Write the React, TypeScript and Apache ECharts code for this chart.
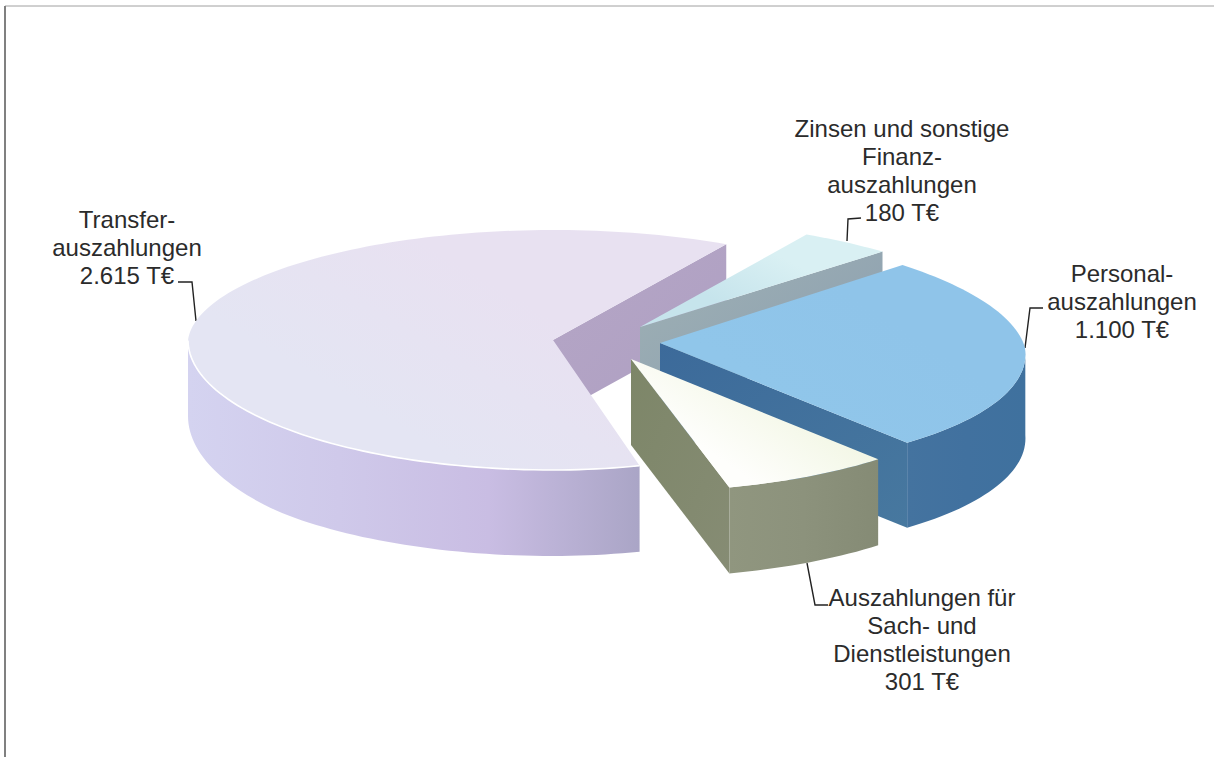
import React, { useEffect, useRef } from "react";
import * as echarts from "echarts";

// Data (clockwise, as in the source sheet)
const categories = ["Transfer-\nauszahlungen", "Zinsen und sonstige\nFinanz-\nauszahlungen", "Personal-\nauszahlungen", "Auszahlungen für\nSach- und\nDienstleistungen"];
const values = [2615, 180, 1100, 301];
const valueLabels = ["2.615 T€", "180 T€", "1.100 T€", "301 T€"];

// Geometry and styling of the tilted, exploded pie
const firstAngle = 284.9; // degrees, counter-clockwise from east
const rx = 365;
const looks = [
  { ax: 553, ay: 340, cx: 553, cy: 340, back: 110, front: 130, kb: 0.04, kf: -0.08, depth: 76, extra: 10,
    top: ["#e8e1f1", "#e4e5f3"], wall: ["#b5a6c6", "#ae9fc2"], rim: ["#d4d3f0", "#cfc9ea", "#c9bde3", "#aaa5c6"], edge: "#ffffff" },
  { ax: 640, ay: 327, cx: 640, cy: 326, back: 105, front: 130, kb: 0.083, kf: 0.05, depth: 84, extra: 2,
    top: ["#d9f0f3", "#c6e4ec"], wall: ["#9fb1b4", "#8a9db0"], rim: ["#8a9db0", "#8a9db0"], edge: "" },
  { ax: 660, ay: 343, cx: 660, cy: 348, back: 117, front: 125, kb: 0.083, kf: 0.05, depth: 84, extra: 1,
    top: ["#8fc4e9", "#90c6ea"], wall: ["#3c6a9a", "#47789f"], rim: ["#44739f", "#41719f", "#3f719e"], edge: "" },
  { ax: 631, ay: 359, cx: 631, cy: 357, back: 105, front: 135, kb: 0.083, kf: 0.05, depth: 82, extra: 4,
    top: ["#f3f7e6", "#fefefc"], wall: ["#7d8668", "#868c74"], rim: ["#90967f", "#8c927c", "#858b75"], edge: "" },
];
const labelBoxes = [
  { x: 127, y: 247, leader: [[178, 282], [192, 282], [196, 321]] },
  { x: 902, y: 170, leader: [[861, 218], [848, 219], [847, 241]] },
  { x: 1122, y: 301, leader: [[1043, 308], [1030, 308], [1025, 348]] },
  { x: 922, y: 639, leader: [[807, 563], [815, 605], [828, 605]] },
];

const thickness = (look: any, deg: number) =>
  look.depth + look.extra * Math.min(1, 1.5 * Math.max(0, -Math.sin((deg * Math.PI) / 180)));

function rimPoint(look: any, deg: number) {
  const t = (deg * Math.PI) / 180;
  const s = Math.sin(t);
  const c = Math.cos(t);
  let xScale = 1;
  if (s > 0) xScale = 1 - look.kb * s;
  else if (c > 0) xScale = 1 - look.kf * s;
  return [look.cx + rx * c * xScale, look.cy - s * (s > 0 ? look.back : look.front)];
}

const grad = (colors: string[], x: number, y: number, x2: number, y2: number) => ({
  type: "linear", x, y, x2, y2,
  colorStops: colors.map((color, i) => ({ offset: i / (colors.length - 1), color })),
});

function renderSlice(params: any, api: any) {
  const i = params.dataIndex;
  const total = values.reduce((a, b) => a + b, 0);
  const before = values.slice(0, i).reduce((a, b) => a + b, 0);
  const value = api.value(0);
  // clockwise sweep: a is the larger angle, b the smaller one
  const a = firstAngle - (before / total) * 360;
  const b = a - (value / total) * 360;
  const look = looks[i];
  const n = Math.ceil((a - b) / 1.5);
  const arc: number[] = [];
  for (let k = 0; k <= n; k++) arc.push(a - ((a - b) * k) / n);
  const topPts = [[look.ax, look.ay], ...arc.map((d) => rimPoint(look, d))];
  const children: any[] = [];

  const wall = (d: number) => {
    const p = rimPoint(look, d);
    const h = thickness(look, d);
    return [[look.ax, look.ay], p, [p[0], p[1] + h], [look.ax, look.ay + h]];
  };
  // radial walls that face the viewer
  if (Math.sin(((b - 90) * Math.PI) / 180) < 0) {
    children.push({ type: "polygon", shape: { points: wall(b) }, style: { fill: grad(look.wall, 0, 0, 1, 1) } });
  }
  if (Math.cos((a * Math.PI) / 180) < 0) {
    children.push({ type: "polygon", shape: { points: wall(a) }, style: { fill: grad(look.wall, 0, 0, 1, 1) } });
  }
  // outer wall, front half only
  const front = arc.filter((d) => Math.sin((d * Math.PI) / 180) <= 0);
  if (front.length > 1) {
    const upper = front.map((d) => rimPoint(look, d));
    const lower = front.map((d) => { const p = rimPoint(look, d); return [p[0], p[1] + thickness(look, d)]; }).reverse();
    children.push({ type: "polygon", shape: { points: [...upper, ...lower] }, style: { fill: grad(look.rim, 0, 0, 1, 0) } });
  }
  children.push({ type: "polygon", shape: { points: topPts }, style: { fill: grad(look.top, 0.7, 0.4, 0.3, 0.7) } });
  if (look.edge && front.length > 1) {
    children.push({ type: "polyline", shape: { points: front.map((d) => rimPoint(look, d)) }, style: { fill: "none", stroke: look.edge, lineWidth: 1.6 } });
  }
  return { type: "group", children };
}

export default function App() {
  const ref = useRef<HTMLDivElement>(null);
  useEffect(() => {
    document.body.style.margin = "0";
    document.body.style.background = "#ffffff";
    const chart = echarts.init(ref.current!, null, { renderer: "svg" });
    chart.setOption({
      animation: false,
      backgroundColor: "#ffffff",
      series: [
        { type: "custom", coordinateSystem: "none", renderItem: renderSlice, data: values.map((v, i) => ({ name: categories[i], value: [v] })), silent: true, clip: false },
      ],
      graphic: [
        { type: "line", shape: { x1: 5, y1: 6, x2: 1214, y2: 6 }, style: { stroke: "#a0a0a0", lineWidth: 1 } },
        { type: "line", shape: { x1: 5, y1: 6, x2: 5, y2: 757 }, style: { stroke: "#808080", lineWidth: 2 } },
        ...labelBoxes.map((b) => ({ type: "polyline", shape: { points: b.leader }, style: { fill: "none", stroke: "#222222", lineWidth: 1.4 } })),
        ...labelBoxes.map((b, i) => ({
          type: "text", x: b.x, y: b.y,
          style: {
            text: `${categories[i]}\n${valueLabels[i]}`,
            font: '24px "Liberation Sans", Arial, sans-serif',
            fill: "#2b2b2b", align: "center", verticalAlign: "middle", lineHeight: 28,
          },
        })),
      ],
    });
    return () => chart.dispose();
  }, []);
  return <div ref={ref} style={{ width: 1214, height: 757, position: "absolute", left: 0, top: 0 }} />;
}
